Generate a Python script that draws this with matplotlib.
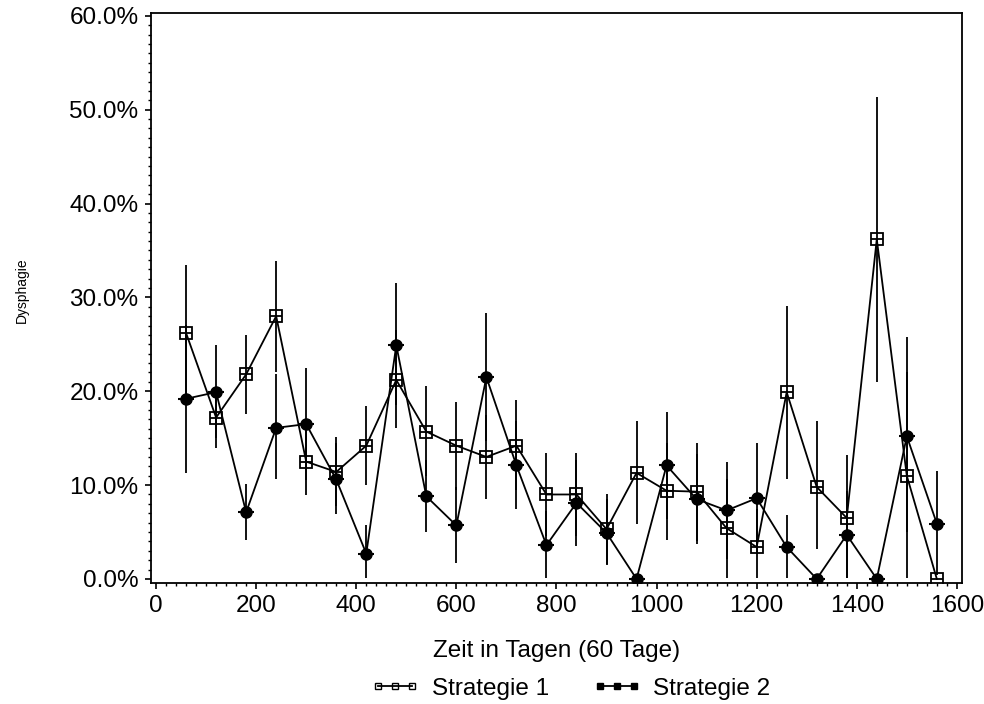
import numpy as np
import matplotlib
matplotlib.use("Agg")
import matplotlib.pyplot as plt
from matplotlib.ticker import MultipleLocator, FuncFormatter

plt.rcParams['font.family'] = ['Liberation Sans', 'DejaVu Sans']

days = np.arange(60, 1561, 60)

# Strategie 1: value, lower, upper (percent)
s1 = [26.2, 17.2, 21.8, 28.0, 12.5, 11.4, 14.2, 21.2, 15.7, 14.2, 13.0, 14.2, 9.0,
      9.0, 5.3, 11.3, 9.4, 9.3, 5.4, 3.4, 19.9, 9.8, 6.5, 36.2, 11.0, 0.0]
s1_lo = [18.8, 14.0, 17.6, 22.0, 8.9, 7.8, 10.0, 16.1, 11.0, 9.5, 8.5, 9.5, 4.6,
         4.6, 1.6, 5.9, 4.1, 4.0, 0.1, 0.1, 10.7, 3.2, 0.1, 21.0, 0.1, 0.0]
s1_hi = [33.5, 20.5, 26.0, 33.9, 16.5, 15.1, 18.4, 26.5, 20.6, 18.9, 17.5, 19.1, 13.4,
         13.4, 9.0, 16.8, 14.5, 14.5, 10.7, 7.5, 29.1, 16.8, 13.2, 51.4, 22.0, 0.0]

# Strategie 2
s2 = [19.2, 19.9, 7.1, 16.1, 16.5, 10.6, 2.7, 24.9, 8.8, 5.7, 21.5, 12.1, 3.6,
      8.1, 4.9, 0.0, 12.1, 8.5, 7.3, 8.6, 3.4, 0.0, 4.7, 0.0, 15.2, 5.9]
s2_lo = [11.3, 15.0, 4.1, 10.6, 10.5, 6.9, 0.1, 18.5, 5.0, 1.7, 14.7, 7.4, 0.1,
         3.5, 1.5, 0.0, 6.4, 3.7, 2.1, 2.7, 0.1, 0.0, 0.1, 0.0, 5.0, 0.4]
s2_hi = [27.1, 24.9, 10.1, 21.8, 22.5, 14.5, 5.8, 31.5, 12.7, 9.8, 28.3, 16.8, 7.2,
         12.7, 8.5, 0.0, 17.8, 13.3, 12.5, 14.5, 6.8, 0.0, 9.4, 0.0, 25.8, 11.5]

s1 = np.array(s1); s2 = np.array(s2)
err1 = [s1 - np.array(s1_lo), np.array(s1_hi) - s1]
err2 = [s2 - np.array(s2_lo), np.array(s2_hi) - s2]

fig = plt.figure(figsize=(9.84, 7.04), dpi=100)
ax = fig.add_axes([0.1535, 0.1719, 0.824, 0.8096])

ax.errorbar(days, s1, yerr=err1, fmt='none', ecolor='black', elinewidth=1.3, capsize=0, zorder=2)
ax.errorbar(days, s2, yerr=err2, fmt='none', ecolor='black', elinewidth=1.3, capsize=0, zorder=2)

ax.plot(days, s1, color='black', lw=1.3, marker='s', ms=8, mfc='none', mec='black', mew=1.3, zorder=3)
ax.plot(days, s2, color='black', lw=1.3, marker='o', ms=8, mfc='black', mec='black', zorder=3)
ax.plot(days, s1, ls='none', marker='_', ms=9, mec='black', mew=1.3, zorder=4)
ax.plot(days, s2, ls='none', marker='_', ms=12, mec='black', mew=1.5, zorder=4)

ax.set_xlim(-10, 1610)
ax.set_ylim(-0.43, 60.3)
ax.xaxis.set_major_locator(MultipleLocator(200))
ax.xaxis.set_minor_locator(MultipleLocator(20))
ax.yaxis.set_major_locator(MultipleLocator(10))
ax.yaxis.set_minor_locator(MultipleLocator(1))
ax.yaxis.set_major_formatter(FuncFormatter(lambda v, p: f"{v:.1f}%"))
ax.tick_params(which='major', direction='out', length=4, width=1.2, labelsize=17.5, pad=5)
ax.tick_params(which='minor', direction='out', length=2, width=1.0)
for sp in ax.spines.values():
    sp.set_linewidth(1.3)

ax.set_xlabel('Zeit in Tagen (60 Tage)', fontsize=17.5, labelpad=16)
fig.text(0.022, 0.588, 'Dysphagie', rotation=90, fontsize=10, ha='center', va='center')

h1, = ax.plot([], [], color='black', lw=1.3, marker='s', ms=5, mfc='none', mec='black')
h2, = ax.plot([], [], color='black', lw=1.3, marker='s', ms=5, mfc='black', mec='black')
fig.legend([h1, h2], ['Strategie 1', 'Strategie 2'], loc='center', bbox_to_anchor=(0.58, 0.022),
           ncol=2, frameon=False, fontsize=17.5, numpoints=3, handlelength=2.0,
           handletextpad=0.5, columnspacing=1.8)

fig.savefig('out.png', dpi=100)
